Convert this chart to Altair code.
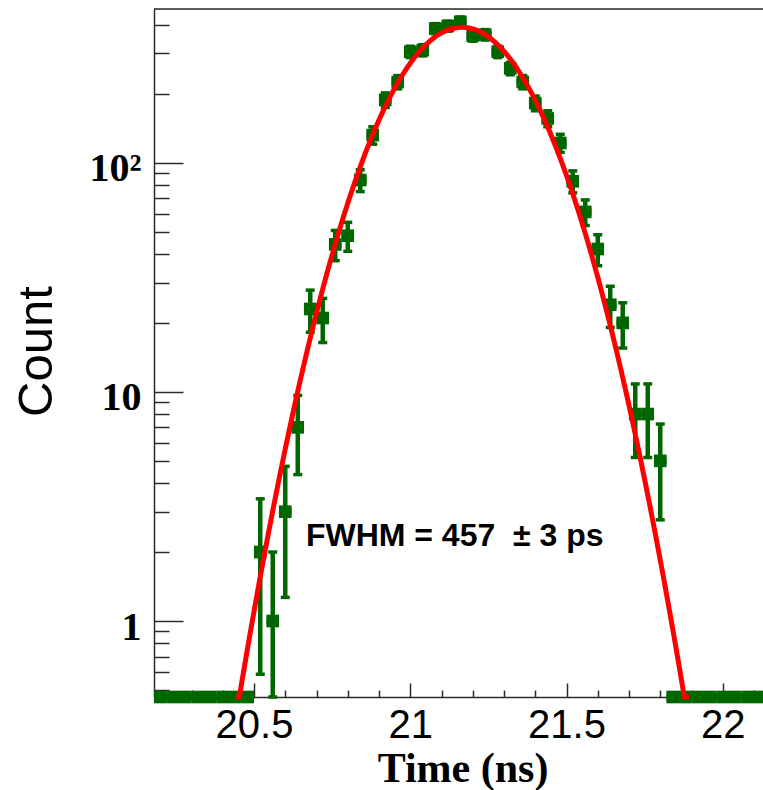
import altair as alt
import pandas as pd
import numpy as np

# ---------------- data ----------------
BIN_WIDTH = 0.04  # ns
BIN_CENTERS = [
    20.20, 20.24, 20.28, 20.32, 20.36, 20.40, 20.44, 20.48,
    20.52, 20.56, 20.60, 20.64, 20.68, 20.72, 20.76, 20.80,
    20.84, 20.88, 20.92, 20.96, 21.00, 21.04, 21.08, 21.12,
    21.16, 21.20, 21.24, 21.28, 21.32, 21.36, 21.40, 21.44,
    21.48, 21.52, 21.56, 21.60, 21.64, 21.68, 21.72, 21.76,
    21.80, 21.84, 21.88, 21.92, 21.96, 22.00, 22.04, 22.08,
    22.12, 22.16,
]
COUNTS = [
    0, 0, 0, 0, 0, 0, 0, 0,
    2, 1, 3, 7, 23, 21, 44, 48,
    84, 132, 188, 225, 305, 310, 385, 395,
    412, 358, 362, 305, 258, 225, 182, 156,
    122, 83, 61, 42, 24, 20, 8, 8,
    5, 0, 0, 0, 0, 0, 0, 0,
    0, 0,
]

FIT_MEAN = 21.165
FIT_FWHM = 0.457
FIT_AMPLITUDE = 390.0
FIT_RANGE = [20.44, 21.89]

X_TICK_LABELS = [20.5, 21.0, 21.5, 22.0]
X_TICKS = [20.2, 20.3, 20.4, 20.5, 20.6, 20.7, 20.8, 20.9, 21.0, 21.1, 21.2,
           21.3, 21.4, 21.5, 21.6, 21.7, 21.8, 21.9, 22.0, 22.1]
Y_TICK_LABELS = [1, 10, 100]
Y_TICKS = [0.5, 0.6, 0.7, 0.8, 0.9, 1, 2, 3, 4, 5, 6, 7, 8, 9,
           10, 20, 30, 40, 50, 60, 70, 80, 90, 100, 200, 300, 400]

ANNOTATION = "FWHM = 457\u00a0 \u00b1 3 ps"
ANNOT_X = 20.666
ANNOT_Y = 2.125

# ---------------- geometry / style ----------------
W, H = 609, 688
PAD = {"left": 154, "top": 9, "right": 0, "bottom": 93}
XMIN = 20.18
XMAX = XMIN + W / 312.5
YMIN, YMAX = 0.466, 468.6
GREEN = "#006600"
FRAME = "#2b2b2b"

df = pd.DataFrame({"t": BIN_CENTERS, "n": COUNTS})
df["ypos"] = np.maximum(df["n"], YMIN)
df["err"] = np.sqrt(df["n"])
df["lo"] = np.maximum(df["n"] - df["err"], YMIN)
df["hi"] = df["n"] + df["err"]
df["x0"] = df["t"] - BIN_WIDTH / 2
df["x1"] = df["t"] + BIN_WIDTH / 2
nz = df[df["n"] > 0]

xs = alt.Scale(domain=[XMIN, XMAX], nice=False, zero=False)
ys = alt.Scale(type="log", domain=[YMIN, YMAX], nice=False)

xax = alt.Axis(
    orient="bottom", values=X_TICK_LABELS, ticks=False, tickSize=0, grid=False,
    domainColor=FRAME, domainWidth=1.5, format="~g",
    labelFont="Liberation Sans", labelFontSize=40, labelColor="black",
    labelPadding=40, labelBaseline="alphabetic", labelFlush=False, labelOverlap=False,
    title="Time (ns)", titleFont="Liberation Serif", titleFontWeight="bold",
    titleFontSize=42, titleColor="black", titleX=308.5, titleY=84,
    titleBaseline="alphabetic", titleAlign="center", titleAngle=0,
)
yax = alt.Axis(
    orient="left", values=Y_TICK_LABELS, ticks=False, tickSize=0, grid=False,
    domainColor=FRAME, domainWidth=1.5,
    labelFont="Liberation Serif", labelFontWeight="bold", labelFontSize=40,
    labelColor="black", labelPadding=13, labelAlign="right",
    labelBaseline="alphabetic", labelOffset=18, labelOverlap=False, labelFlush=False,
    labelExpr="datum.value >= 100 ? '10²' : (datum.value >= 10 ? '10' : '1')",
    title="Count", titleFont="Liberation Sans", titleFontWeight="normal",
    titleFontSize=49, titleColor="black", titleAngle=270, titleX=-102.5, titleY=342,
    titleBaseline="alphabetic", titleAlign="center",
)
xtickax = alt.Axis(
    orient="top", offset=-H, values=X_TICKS, labels=False, domain=False, grid=False,
    title="", tickColor=FRAME, tickWidth=1.5,
    tickSize={"condition": {"test": "abs(datum.value*2 - round(datum.value*2)) < 0.001",
                            "value": 14}, "value": 7},
)
ytickax = alt.Axis(
    orient="right", offset=-W, values=Y_TICKS, labels=False, domain=False, grid=False,
    title="", tickColor=FRAME, tickWidth=1.5,
    tickSize={"condition": {"test": "indexof([1, 10, 100], datum.value) >= 0",
                            "value": 29}, "value": 15},
)

hbar = alt.Chart(df).mark_rule(color=GREEN, strokeWidth=7).encode(
    x=alt.X("x0:Q", scale=xs, axis=xax), x2="x1:Q",
    y=alt.Y("ypos:Q", scale=ys, axis=yax),
)
vbar = alt.Chart(nz).mark_rule(color=GREEN, strokeWidth=4.5).encode(
    x=alt.X("t:Q", scale=xs, axis=xax),
    y=alt.Y("lo:Q", scale=ys, axis=yax), y2="hi:Q",
)
cap_hi = alt.Chart(nz).mark_tick(color=GREEN, orient="horizontal", size=9,
                                 thickness=3.5, opacity=1).encode(
    x=alt.X("t:Q", scale=xs, axis=xax), y=alt.Y("hi:Q", scale=ys, axis=yax),
)
cap_lo = alt.Chart(nz).mark_tick(color=GREEN, orient="horizontal", size=9,
                                 thickness=3.5, opacity=1).encode(
    x=alt.X("t:Q", scale=xs, axis=xax), y=alt.Y("lo:Q", scale=ys, axis=yax),
)
squares = alt.Chart(df).mark_square(color=GREEN, size=160, opacity=1, strokeWidth=0).encode(
    x=alt.X("t:Q", scale=xs, axis=xax), y=alt.Y("ypos:Q", scale=ys, axis=yax),
)
hist = alt.layer(hbar, vbar, cap_hi, cap_lo, squares)

sigma = FIT_FWHM / (2 * np.sqrt(2 * np.log(2)))
fit = alt.Chart(alt.sequence(FIT_RANGE[0], FIT_RANGE[1] + 0.0025, 0.0025, as_="t")).transform_calculate(
    fit=f"max({FIT_AMPLITUDE} * exp(-0.5 * pow((datum.t - {FIT_MEAN}) / {sigma}, 2)), {YMIN})"
).mark_line(color="#ff0000", strokeWidth=5).encode(
    x=alt.X("t:Q", scale=xs, axis=xtickax),
    y=alt.Y("fit:Q", scale=ys, axis=ytickax),
)

text = alt.Chart(pd.DataFrame({"tx": [ANNOT_X], "ty": [ANNOT_Y], "label": [ANNOTATION]})).mark_text(
    align="left", baseline="alphabetic", font="Liberation Sans", fontWeight="bold",
    fontSize=32, color="black",
).encode(
    x=alt.X("tx:Q", scale=xs, axis=None),
    y=alt.Y("ty:Q", scale=ys, axis=None),
    text="label:N",
)

border = alt.Chart(pd.DataFrame({"a": [0]})).mark_rule(color=FRAME, strokeWidth=1.5).encode(
    x=alt.value(0), x2=alt.value(W), y=alt.value(0)
)

chart = alt.layer(hist, fit, text, border).resolve_axis(
    x="independent", y="independent"
).properties(
    width=W, height=H, autosize=alt.AutoSizeParams(type="none"), padding=PAD,
).configure_view(strokeWidth=0).configure(background="white")

chart.save("out.html", embed_options={"renderer": "svg", "actions": False})
